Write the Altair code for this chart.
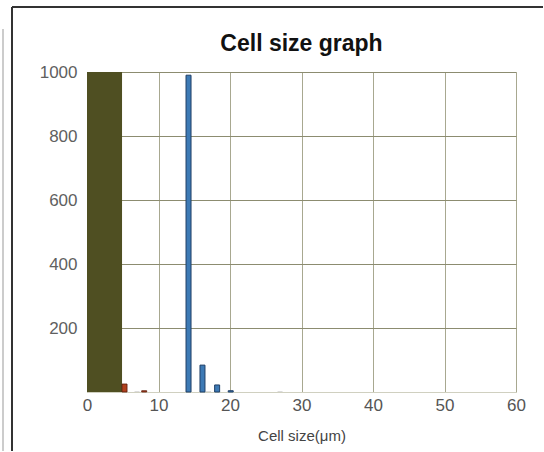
import altair as alt
import pandas as pd

# Series data
olive_start = [0.0]
olive_end = [4.9]
olive_count = [1000]

red_size = [5.25, 8.0]
red_count = [25, 4]

blue_size = [14.2, 16.15, 18.2, 20.1]
blue_count = [990, 84, 22, 4]

gray_size = [7.0, 17.0, 27.0]
gray_count = [2, 2, 2]

x_ticks = [0, 10, 20, 30, 40, 50, 60]
y_ticks = [200, 400, 600, 800, 1000]

olive_df = pd.DataFrame({"x": olive_start, "x2": olive_end, "y": olive_count})
red_df = pd.DataFrame({"x": red_size, "y": red_count})
blue_df = pd.DataFrame({"x": blue_size, "y": blue_count})
gray_df = pd.DataFrame({"x": gray_size, "y": gray_count})

xscale = alt.Scale(domain=[0, 60], nice=False, padding=0)
yscale = alt.Scale(domain=[0, 1000], nice=False, padding=0)

xaxis = alt.Axis(values=x_ticks, title="Cell size(μm)", grid=True, gridColor="#a8a890",
                 ticks=False, domainColor="#d0d0c0", labelFontSize=17, labelColor="#555555",
                 labelPadding=5, labelFlush=False, titleFontSize=15, titleFontWeight="normal",
                 titleColor="#444444", titlePadding=15, labelFont="Liberation Sans",
                 titleFont="Liberation Sans")
yaxis = alt.Axis(values=y_ticks, title=None, grid=True, gridColor="#8c8c70", format="d",
                 ticks=False, domain=False, labelFontSize=17, labelColor="#606060",
                 labelPadding=10, labelFont="Liberation Sans")

base_x = alt.X("x:Q", scale=xscale, axis=xaxis)
base_y = alt.Y("y:Q", scale=yscale, axis=yaxis)

olive = alt.Chart(olive_df).mark_bar(color="#4f4f22", clip=True).encode(
    x=base_x, x2="x2:Q", y=base_y, y2=alt.datum(0)
)
red = alt.Chart(red_df).mark_bar(width=5, color="#b0401c", stroke="#5a1a0a",
                                 strokeWidth=0.8).encode(
    x=alt.X("x:Q", scale=xscale), y=alt.Y("y:Q", scale=yscale)
)
blue = alt.Chart(blue_df).mark_bar(width=5, color="#3d7ab5", stroke="#1f3f66",
                                   strokeWidth=1).encode(
    x=alt.X("x:Q", scale=xscale), y=alt.Y("y:Q", scale=yscale)
)
gray = alt.Chart(gray_df).mark_bar(width=5, color="#c8c8c8").encode(
    x=alt.X("x:Q", scale=xscale), y=alt.Y("y:Q", scale=yscale)
)

# Outer frame lines (decoration)
frame_df = pd.DataFrame({"k": [0]})
frame_left = alt.Chart(frame_df).mark_rule(color="#333333", strokeWidth=2).encode(
    x=alt.value(-75), y=alt.value(-65), y2=alt.value(379)
)
frame_top = alt.Chart(frame_df).mark_rule(color="#333333", strokeWidth=2).encode(
    x=alt.value(-75), x2=alt.value(456), y=alt.value(-65)
)
frame_outer = alt.Chart(frame_df).mark_rule(color="#999999", strokeWidth=1).encode(
    x=alt.value(-84), y=alt.value(-43), y2=alt.value(379)
)

chart = alt.layer(olive, red, gray, blue, frame_left, frame_top, frame_outer).properties(
    width=429,
    height=320,
    title=alt.TitleParams("Cell size graph", fontSize=23, fontWeight="bold",
                          color="#111111", font="Liberation Sans", offset=-50),
    padding={"left": 2, "top": 6, "right": 0, "bottom": 0},
).configure_view(stroke="#c8c8b8", strokeWidth=1).configure(background="white")

chart.save("out.html", embed_options={"renderer": "svg", "actions": False})
